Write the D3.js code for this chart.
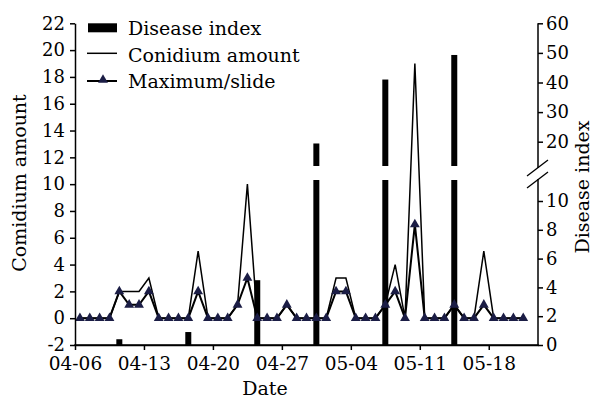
<!DOCTYPE html>
<html><head><meta charset="utf-8">
<script src="https://cdn.jsdelivr.net/npm/d3@7"></script>
<style>
body{margin:0;background:#fff;}
</style></head>
<body><svg id="c" width="595" height="400"></svg>
<script>
const dates = ["04-06","04-07","04-08","04-09","04-10","04-11","04-12","04-13","04-14","04-15","04-16","04-17","04-18","04-19","04-20","04-21","04-22","04-23","04-24","04-25","04-26","04-27","04-28","04-29","04-30","05-01","05-02","05-03","05-04","05-05","05-06","05-07","05-08","05-09","05-10","05-11","05-12","05-13","05-14","05-15","05-16","05-17","05-18","05-19","05-20","05-21"];
const conidium = [0,0,0,0,2,2,2,3,0,0,0,0,5,0,0,0,1,10,0,0,0,1,0,0,0,0,3,3,0,0,0,1,4,0,19,0,0,0,1,0,0,5,0,0,0,0];
const maxSlide = [0,0,0,0,2,1,1,2,0,0,0,0,2,0,0,0,1,3,0,0,0,1,0,0,0,0,2,2,0,0,0,1,2,0,7,0,0,0,1,0,0,1,0,0,0,0];
const diseaseDates = ["04-10","04-17","04-24","04-30","05-07","05-14"];
const diseaseIndex = [0.4,0.9,4.5,19.7,41,49.3];
const xTicks = ["04-06","04-13","04-20","04-27","05-04","05-11","05-18"];
const leftTicks = [-2,0,2,4,6,8,10,12,14,16,18,20,22];
const rightTicksLow = [0,2,4,6,8,10];
const rightTicksHigh = [20,30,40,50,60];

const FONT = "DejaVu Serif, serif";
const parse = s => d3.utcParse("%Y-%m-%d")("2012-" + s);
const DAY = 864e5;
const svg = d3.select("#c");
const X0 = 75, X1 = 538, YB = 345;

const x = d3.scaleUtc().domain([parse("04-06"), new Date(parse("04-06").getTime() + 47*DAY)]).range([X0, X1]);
const xc = s => x(new Date(parse(s).getTime() + DAY/2));
const yL = d3.scaleLinear().domain([-2,22]).range([YB,23.3]);
const yR = d3.scaleLinear().domain([0,10,20,60]).range([YB,201,141.7,23.3]);

const bars = diseaseDates.map((d,i)=>({d, v: diseaseIndex[i]}));
svg.append("g").selectAll("rect").data(bars).join("rect")
  .attr("x", d=>xc(d.d)-3).attr("width",6)
  .attr("y", d=>yR(d.v)).attr("height", d=>YB - yR(d.v)).attr("fill","#000");
svg.append("g").selectAll("rect").data(bars.filter(d=>yR(d.v)<166)).join("rect")
  .attr("x", d=>xc(d.d)-4).attr("width",8).attr("y",166).attr("height",14).attr("fill","#fff");

const pts = (arr) => arr.map((v,i)=>[xc(dates[i]), yL(v)]);
const line = d3.line();
svg.append("path").attr("d", line(pts(conidium))).attr("fill","none").attr("stroke","#000").attr("stroke-width",1.5);
svg.append("path").attr("d", line(pts(maxSlide))).attr("fill","none").attr("stroke","#000").attr("stroke-width",2);
const tri = d3.symbol().type(d3.symbolTriangle).size(42);
svg.append("g").selectAll("path").data(pts(maxSlide)).join("path")
  .attr("d", tri).attr("transform", d=>`translate(${d[0]},${d[1]})`).attr("fill","#1b1d45");

function style(g, size){
  g.attr("font-family", FONT).attr("font-size", size);
  g.selectAll("line").attr("stroke","#000").attr("stroke-width",1.5);
  g.selectAll("path.domain").attr("stroke","#000").attr("stroke-width",1.5);
  g.selectAll("text").style("font-family", FONT).style("font-size", size+"px").attr("fill","#000");
}
const gx = svg.append("g").attr("transform",`translate(0,${YB})`)
  .call(d3.axisBottom(x).tickValues(xTicks.map(parse)).tickFormat(d3.utcFormat("%m-%d")).tickSize(5).tickSizeOuter(0).tickPadding(7));
style(gx, 18.5);
const gl = svg.append("g").attr("transform",`translate(${X0},0)`)
  .call(d3.axisLeft(yL).tickValues(leftTicks).tickFormat(d3.format("d")).tickSize(5).tickSizeOuter(0).tickPadding(5));
style(gl, 18);
gl.selectAll("text").text(d=>d<0?"-"+Math.abs(d):d);
const grl = svg.append("g").attr("transform",`translate(${X1},0)`)
  .call(d3.axisRight(yR).tickValues(rightTicksLow).tickSize(5).tickPadding(3));
grl.select("path.domain").remove();
style(grl, 18);
const grh = svg.append("g").attr("transform",`translate(${X1},0)`)
  .call(d3.axisRight(yR).tickValues(rightTicksHigh).tickSize(5).tickPadding(3));
grh.select("path.domain").remove();
style(grh, 18);
svg.append("line").attr("x1",X1).attr("x2",X1).attr("y1",yR(60)).attr("y2",168).attr("stroke","#000").attr("stroke-width",1.5);
svg.append("line").attr("x1",X1).attr("x2",X1).attr("y1",179).attr("y2",YB+0.75).attr("stroke","#000").attr("stroke-width",1.5);
svg.append("line").attr("x1",X0-0.75).attr("x2",X1+0.75).attr("y1",YB).attr("y2",YB).attr("stroke","#000").attr("stroke-width",1.5);
[0,12].forEach(o=>{
  svg.append("line").attr("x1",527).attr("y1",176+o).attr("x2",548).attr("y2",160+o).attr("stroke","#000").attr("stroke-width",1.3);
});

const T = (sel,sz)=>sel.style("font-family",FONT).style("font-size",(sz||19)+"px").attr("fill","#000");
T(svg.append("text").attr("transform","translate(26,183) rotate(-90)").attr("text-anchor","middle").text("Comidium amount"));
T(svg.append("text").attr("transform","translate(589,187) rotate(-90)").attr("text-anchor","middle").text("Disease index"));
T(svg.append("text").attr("x",265).attr("y",395).attr("text-anchor","middle").text("Date"));

const lg = svg.append("g");
lg.append("rect").attr("x",88).attr("y",23.3).attr("width",29).attr("height",9).attr("fill","#000");
T(lg.append("text").attr("x",128).attr("y",35).text("Disease index"));
lg.append("line").attr("x1",87).attr("x2",117).attr("y1",53.3).attr("y2",53.3).attr("stroke","#000").attr("stroke-width",1.5);
T(lg.append("text").attr("x",128).attr("y",61.5).text("Conidium amount"));
lg.append("line").attr("x1",87).attr("x2",117).attr("y1",81).attr("y2",81).attr("stroke","#000").attr("stroke-width",2);
lg.append("path").attr("d",tri).attr("transform","translate(103,80)").attr("fill","#1b1d45");
T(lg.append("text").attr("x",128).attr("y",88).text("Maximum/slide"));
</script></body></html>
